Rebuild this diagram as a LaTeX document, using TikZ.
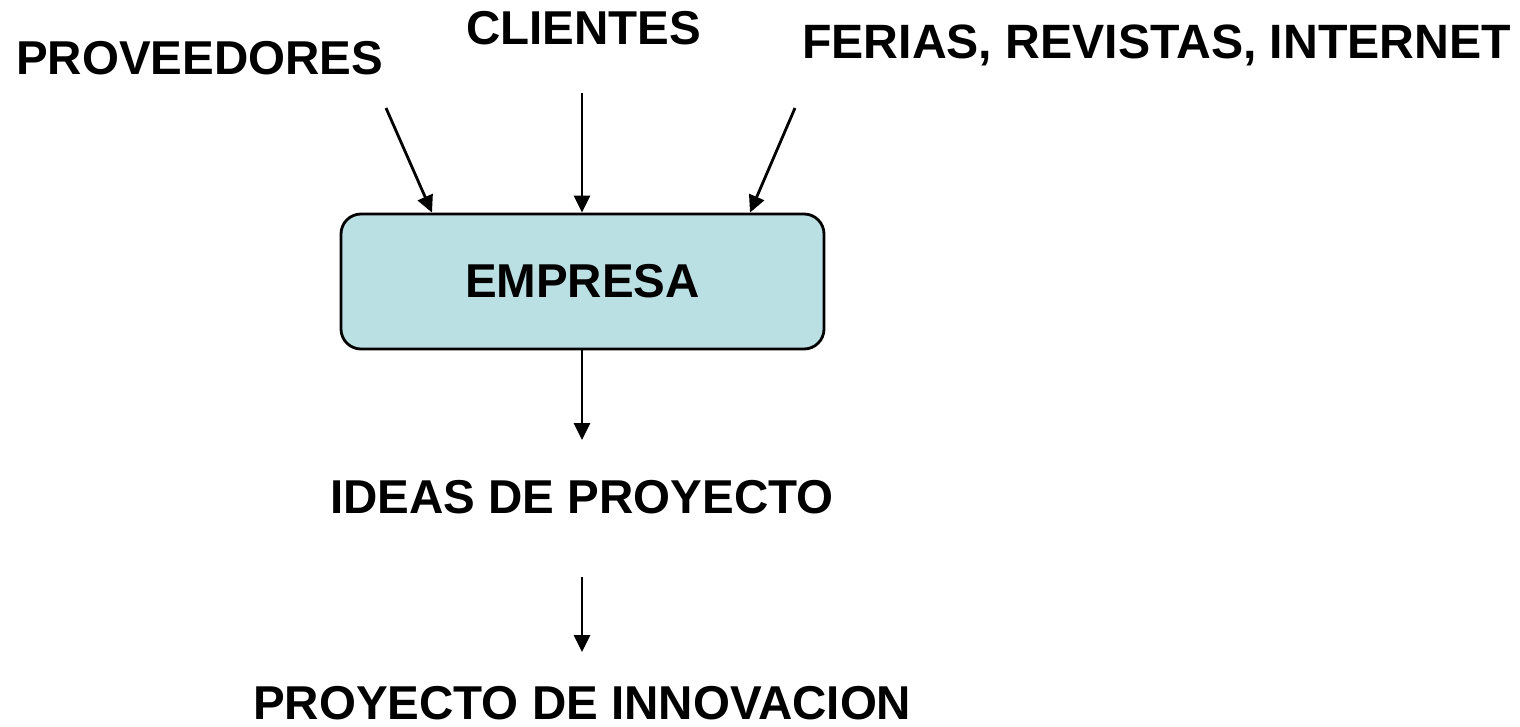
\documentclass[tikz,border=0pt]{standalone}
\usepackage{fontspec}
\setmainfont{Liberation Sans}
\usetikzlibrary{arrows.meta}
\definecolor{boxfill}{HTML}{BBE0E3}
\tikzset{
  lbl/.style={font=\fontsize{47.5}{55}\selectfont\bfseries, inner sep=0pt, anchor=base west},
  arr/.style={line width=2.8pt, -{Triangle[length=17pt,width=16pt]}},
  empbox/.style={draw, line width=2.8pt, fill=boxfill, rounded corners=20pt,
    minimum width=483pt, minimum height=135pt, inner sep=0pt,
    font=\fontsize{47.5}{55}\selectfont\bfseries}
}
\begin{document}
\begin{tikzpicture}[x=1pt,y=-1pt]
\useasboundingbox (0,0) rectangle (1520,727);
\node[lbl] (prov) at (16,75) {PROVEEDORES};
\node[lbl] (cli) at (466,45) {CLIENTES};
\node[lbl, font=\fontsize{48.2}{55}\selectfont\bfseries] (fer) at (802,59) {FERIAS, REVISTAS, INTERNET};
\node[empbox] (box) at (582.5,281.5) {EMPRESA};
\node[lbl] (ideas) at (330,513) {IDEAS DE PROYECTO};
\node[lbl] (proy) at (253,719) {PROYECTO DE INNOVACION};
\coordinate (p0) at (386,108);
\coordinate (c0) at (582,93);
\coordinate (f0) at (795,108);
\coordinate (b1) at (582,440);
\coordinate (i0) at (582,577);
\coordinate (i1) at (582,652);
\draw[arr] (p0) -- (box.north -| 432,0);
\draw[arr] (c0) -- (box.north -| c0);
\draw[arr] (f0) -- (box.north -| 750,0);
\draw[arr] (box.south -| b1) -- (b1);
\draw[arr] (i0) -- (i1);
\end{tikzpicture}
\end{document}
